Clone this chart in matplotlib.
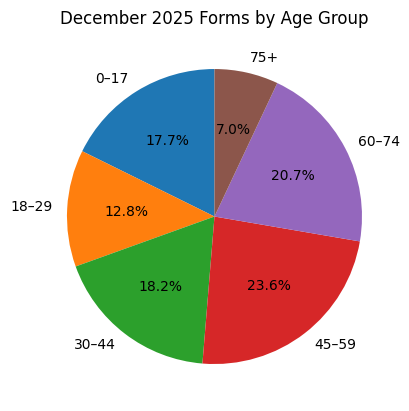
import matplotlib
matplotlib.use("Agg")
import matplotlib.pyplot as plt

age_groups = ["0–17", "18–29", "30–44", "45–59", "60–74", "75+"]
shares = [17.7, 12.8, 18.2, 23.6, 20.7, 7.0]


def main():
    fig = plt.figure(figsize=(4.10, 4.11), dpi=100)
    ax = fig.add_axes([30.1 / 410, 10.1 / 411, 368.75 / 410, 368.75 / 411])
    ax.pie(shares, labels=age_groups, autopct="%1.1f%%", startangle=90)
    ax.set_title("December 2025 Forms by Age Group")
    fig.savefig("out.png", dpi=100)
    plt.close(fig)


if __name__ == "__main__":
    main()
